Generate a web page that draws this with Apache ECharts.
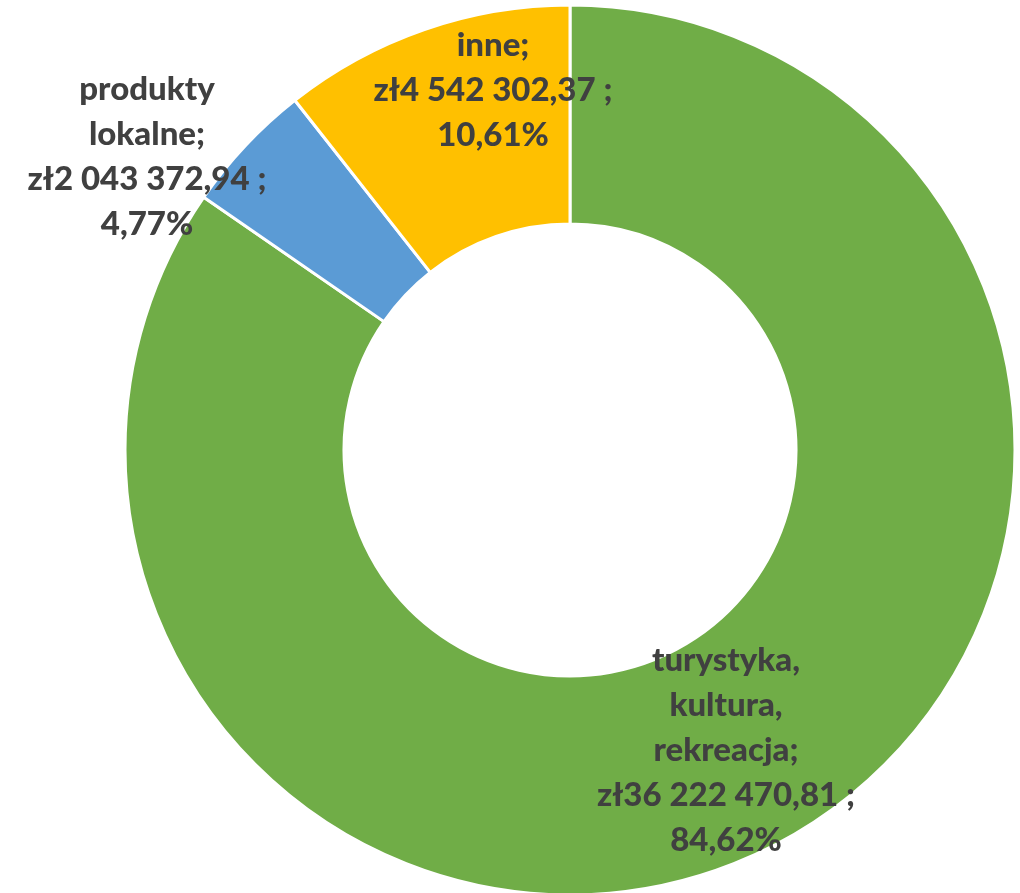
<!DOCTYPE html>
<html>
<head>
<meta charset="utf-8">
<script src="https://cdn.jsdelivr.net/npm/echarts@6/dist/echarts.min.js"></script>
<style>
  html, body { margin: 0; padding: 0; background: #fff; }
  #main { width: 1020px; height: 893px; }
</style>
</head>
<body>
<div id="main"></div>
<script>
// dane
var names = ['turystyka,\nkultura,\nrekreacja', 'produkty\nlokalne', 'inne'];
var values = [36222470.81, 2043372.94, 4542302.37];
var colors = ['#70AD47', '#5B9BD5', '#FFC000'];
// pozycje etykiet (srodek bloku tekstu)
var labelPos = [[726, 750], [147, 157], [493, 90]];

function fmtMoney(v) {
  var parts = v.toFixed(2).split('.');
  var intPart = parts[0].replace(/\B(?=(\d{3})+(?!\d))/g, ' ');
  return 'zł' + intPart + ',' + parts[1];
}

var total = values.reduce(function (a, b) { return a + b; }, 0);

var chart = echarts.init(document.getElementById('main'));
var option = {
  backgroundColor: '#fff',
  animation: false,
  series: [{
    type: 'pie',
    center: [570, 450],
    radius: [226, 445],
    startAngle: 90,
    clockwise: true,
    itemStyle: {
      borderColor: '#fff',
      borderWidth: 3
    },
    label: {
      show: true,
      position: 'inside',
      color: '#404040',
      fontFamily: 'Lato',
      fontWeight: 900,
      fontSize: 33,
      lineHeight: 45,
      align: 'center',
      formatter: function (p) {
        var pct = (values[p.dataIndex] / total * 100).toFixed(2).replace('.', ',');
        return p.name + ';\n' + fmtMoney(p.value) + ' ;\n' + pct + '%';
      }
    },
    labelLine: { show: false },
    labelLayout: function (params) {
      var pos = labelPos[params.dataIndex];
      return {
        x: pos[0],
        y: pos[1],
        align: 'center',
        verticalAlign: 'middle'
      };
    },
    data: names.map(function (n, i) {
      return { name: n, value: values[i], itemStyle: { color: colors[i] } };
    })
  }]
};
chart.setOption(option);
</script>
</body>
</html>
